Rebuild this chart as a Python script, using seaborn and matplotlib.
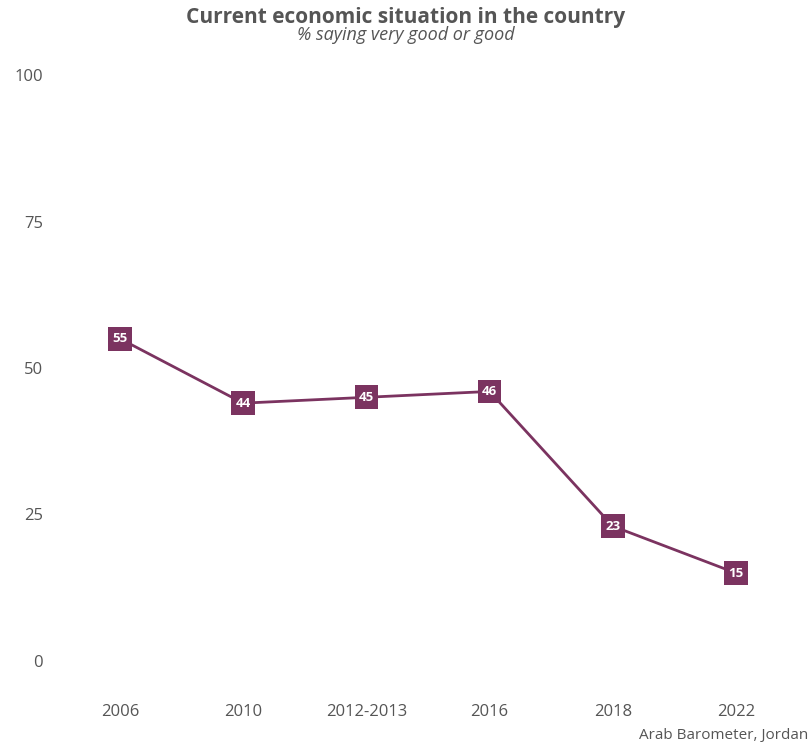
'''Current economic situation line chart'''
import matplotlib
matplotlib.use('Agg')
import matplotlib.pyplot as plt
import seaborn as sns
import pandas as pd

# chart data
waves = ['2006', '2010', '2012-2013', '2016', '2018', '2022']
pct_good = [55, 44, 45, 46, 23, 15]
y_ticks = [0, 25, 50, 75, 100]

LINE_COLOR = '#7b3360'
TEXT_COLOR = '#555555'

sns.set_theme(style='white')
plt.rcParams['font.family'] = ['Open Sans', 'DejaVu Sans']

df = pd.DataFrame({'wave': waves, 'pct': pct_good})
df['pos'] = range(len(df))

fig = plt.figure(figsize=(8.12, 7.45), dpi=100)
# axes placed so that 0..100 maps onto the reference pixel rows
ax = fig.add_axes([58.4 / 812, 1 - 684.4 / 745, (797.6 - 58.4) / 812, (684.4 - 51.6) / 745])

sns.lineplot(data=df, x='pos', y='pct', color=LINE_COLOR, linewidth=2.0, ax=ax)
sns.scatterplot(data=df, x='pos', y='pct', color=LINE_COLOR, marker='s', s=290,
                edgecolor='none', ax=ax, zorder=3)

for x, y in zip(df['pos'], df['pct']):
    ax.text(x, y, str(y), color='white', ha='center', va='center',
            fontsize=9.5, fontweight='bold', zorder=4)

ax.set_xlim(-0.5, 5.5)
ax.set_ylim(-4, 104)
ax.set_xticks(range(len(waves)))
ax.set_xticklabels(waves)
ax.set_yticks(y_ticks)
ax.tick_params(axis='both', colors=TEXT_COLOR, labelsize=12, length=0)
ax.tick_params(axis='y', pad=11)
ax.tick_params(axis='x', pad=14)
ax.set_xlabel('')
ax.set_ylabel('')
sns.despine(ax=ax, left=True, bottom=True)
ax.grid(False)

fig.text(0.5, 1 - 17 / 745, 'Current economic situation in the country',
         ha='center', va='center', fontsize=15, fontweight='bold', color=TEXT_COLOR)
fig.text(0.5, 1 - 35 / 745, '% saying very good or good',
         ha='center', va='center', fontsize=13, style='italic', color=TEXT_COLOR)
fig.text(1 - 4 / 812, 1 - 735 / 745, 'Arab Barometer, Jordan',
         ha='right', va='center', fontsize=11, color=TEXT_COLOR)

fig.savefig('out.png', dpi=100)
